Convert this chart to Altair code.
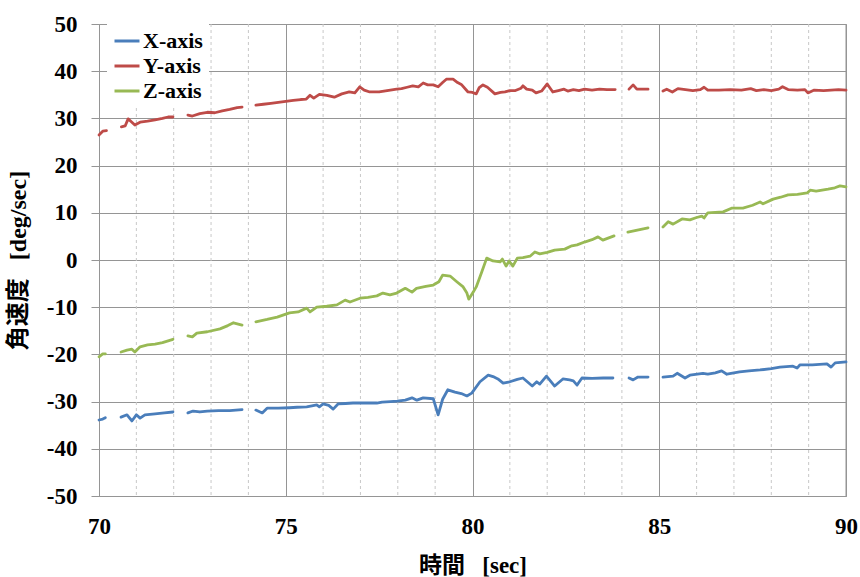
import altair as alt
import pandas as pd

# ---- data (None = gap in recording) ----
t_x = [70.0, 70.1, 70.17, None,
       70.59, 70.75, 70.88, 71.0, 71.1, 71.23, 71.5, 71.75, 71.98, None,
       72.38, 72.52, 72.7, 72.9, 73.2, 73.5, 73.83, None,
       74.2, 74.37, 74.5, 74.8, 75.1, 75.3, 75.56, 75.7, 75.83, 75.9, 76.0, 76.15, 76.27, 76.4, 76.6, 76.8,
       77.1, 77.44, 77.58, 77.8, 77.98, 78.2, 78.38, 78.51, 78.68, 78.95, 79.08, 79.2, 79.34, 79.53, 79.7,
       79.85, 79.98, 80.2, 80.42, 80.55, 80.68, 80.82, 81.0, 81.2, 81.35, 81.6, 81.72, 81.8, 81.98, 82.2,
       82.42, 82.6, 82.7, 82.8, 82.93, 83.2, 83.5, 83.76, None,
       84.19, 84.3, 84.43, 84.7, None,
       85.1, 85.37, 85.48, 85.69, 85.82, 86.17, 86.3, 86.5, 86.67, 86.81, 87.15, 87.4, 87.7, 88.0, 88.23,
       88.58, 88.69, 88.77, 89.1, 89.49, 89.6, 89.71, 90.0]
v_x = [-33.9, -33.7, -33.4, None,
       -33.3, -32.8, -34.1, -32.8, -33.5, -32.8, -32.6, -32.4, -32.2, None,
       -32.4, -32.0, -32.2, -32.0, -31.9, -31.9, -31.7, None,
       -31.8, -32.4, -31.4, -31.4, -31.3, -31.2, -31.1, -30.9, -30.7, -31.1, -30.5, -30.8, -31.6, -30.5, -30.4, -30.3,
       -30.3, -30.3, -30.1, -30.0, -29.9, -29.7, -29.2, -29.7, -29.2, -29.4, -32.8, -29.5, -27.5, -28.0, -28.3,
       -28.8, -28.2, -25.8, -24.4, -24.7, -25.2, -26.1, -25.8, -25.3, -25.0, -26.7, -25.8, -26.3, -24.6, -26.7,
       -25.2, -25.4, -25.6, -26.5, -25.0, -25.1, -25.0, -25.0, None,
       -25.0, -25.4, -24.8, -24.8, None,
       -24.8, -24.6, -24.0, -25.0, -24.4, -24.0, -24.2, -23.9, -23.5, -24.2, -23.7, -23.5, -23.3, -23.0, -22.7,
       -22.5, -22.9, -22.2, -22.2, -22.0, -22.7, -21.8, -21.6]

t_y = [70.0, 70.1, 70.2, None,
       70.6, 70.7, 70.78, 70.88, 70.96, 71.1, 71.3, 71.5, 71.7, 71.85, 71.98, None,
       72.38, 72.5, 72.7, 72.9, 73.1, 73.3, 73.5, 73.7, 73.83, None,
       74.2, 74.4, 74.6, 74.8, 75.0, 75.2, 75.4, 75.55, 75.65, 75.75, 75.9, 76.1, 76.3, 76.5, 76.7, 76.85,
       76.98, 77.1, 77.25, 77.5, 77.8, 77.97, 78.1, 78.25, 78.4, 78.55, 78.68, 78.8, 78.95, 79.08, 79.2,
       79.3, 79.48, 79.6, 79.7, 79.88, 80.0, 80.1, 80.18, 80.28, 80.4, 80.6, 80.75, 80.87, 81.0, 81.15,
       81.3, 81.35, 81.45, 81.6, 81.7, 81.85, 82.0, 82.15, 82.3, 82.45, 82.55, 82.7, 82.85, 83.0, 83.2,
       83.4, 83.6, 83.82, None,
       84.19, 84.3, 84.4, 84.7, None,
       85.1, 85.2, 85.35, 85.5, 85.7, 85.9, 86.1, 86.2, 86.3, 86.6, 86.9, 87.2, 87.45, 87.6, 87.8, 88.0,
       88.2, 88.3, 88.45, 88.7, 88.9, 88.98, 89.15, 89.4, 89.6, 89.8, 90.0]
v_y = [26.5, 27.3, 27.4, None,
       28.2, 28.4, 29.9, 29.2, 28.6, 29.2, 29.4, 29.7, 30.0, 30.3, 30.3, None,
       30.7, 30.5, 31.0, 31.3, 31.2, 31.6, 31.9, 32.3, 32.4, None,
       32.8, 33.0, 33.2, 33.4, 33.6, 33.8, 34.0, 34.1, 34.9, 34.3, 35.1, 34.9, 34.5, 35.2, 35.6, 35.4,
       36.7, 36.0, 35.6, 35.6, 36.0, 36.2, 36.3, 36.6, 36.9, 36.7, 37.5, 37.1, 37.1, 36.7, 37.6,
       38.3, 38.3, 37.6, 37.2, 35.6, 35.5, 35.2, 36.5, 37.1, 36.6, 35.2, 35.5, 35.6, 35.9, 35.9,
       36.4, 36.9, 36.2, 36.0, 35.4, 35.8, 37.3, 35.6, 35.9, 36.2, 35.8, 36.1, 35.9, 36.2, 36.0,
       36.2, 36.1, 36.1, None,
       36.2, 37.1, 36.2, 36.2, None,
       35.8, 36.2, 35.6, 36.3, 36.1, 35.9, 36.1, 36.6, 36.0, 36.0, 36.1, 36.0, 36.3, 35.9, 36.1, 35.9,
       36.2, 36.7, 36.1, 36.0, 36.1, 35.4, 36.0, 35.9, 36.0, 36.1, 36.0]

t_z = [70.0, 70.1, 70.17, None,
       70.59, 70.75, 70.88, 70.96, 71.1, 71.3, 71.5, 71.7, 71.98, None,
       72.38, 72.5, 72.62, 72.9, 73.24, 73.45, 73.6, 73.83, None,
       74.2, 74.5, 74.77, 75.1, 75.33, 75.56, 75.65, 75.83, 76.1, 76.37, 76.59, 76.72, 76.99, 77.2, 77.44,
       77.6, 77.79, 77.97, 78.2, 78.38, 78.5, 78.75, 78.95, 79.1, 79.2, 79.4, 79.58, 79.75, 79.85, 79.9,
       80.02, 80.1, 80.25, 80.38, 80.55, 80.74, 80.8, 80.9, 80.98, 81.08, 81.2, 81.35, 81.54, 81.67, 81.8,
       82.0, 82.2, 82.47, 82.66, 82.8, 83.0, 83.2, 83.36, 83.49, 83.79, None,
       84.16, 84.7, None,
       85.1, 85.24, 85.37, 85.61, 85.82, 86.0, 86.14, 86.2, 86.3, 86.5, 86.71, 86.95, 87.24, 87.5, 87.7,
       87.78, 88.05, 88.25, 88.45, 88.7, 88.96, 89.04, 89.2, 89.52, 89.7, 89.84, 90.0]
v_z = [-20.5, -19.9, -19.9, None,
       -19.5, -19.1, -18.9, -19.5, -18.4, -18.0, -17.8, -17.5, -16.8, None,
       -16.1, -16.3, -15.5, -15.2, -14.6, -13.9, -13.3, -13.8, None,
       -13.1, -12.6, -12.1, -11.2, -11.0, -10.2, -11.0, -10.0, -9.8, -9.5, -8.5, -8.9, -8.1, -7.9, -7.6,
       -7.0, -7.4, -7.0, -6.0, -6.8, -6.0, -5.6, -5.3, -4.6, -3.2, -3.4, -4.6, -5.7, -7.0, -8.3,
       -6.8, -5.7, -2.5, 0.4, -0.2, -0.4, 0.2, -1.3, -0.2, -1.3, 0.4, 0.5, 0.8, 1.7, 1.3,
       1.6, 2.1, 2.3, 3.0, 3.2, 3.8, 4.3, 4.9, 4.2, 5.1, None,
       5.9, 6.8, None,
       7.0, 8.1, 7.6, 8.7, 8.5, 9.0, 9.3, 8.9, 10.0, 10.1, 10.2, 11.0, 11.0, 11.6, 12.3,
       11.9, 12.9, 13.3, 13.8, 13.9, 14.2, 14.8, 14.6, 15.0, 15.3, 15.7, 15.5]

series_names = ["X-axis", "Y-axis", "Z-axis"]
series_colors = ["#4a7ebb", "#be4b48", "#98b954"]
x_ticks = [70, 75, 80, 85, 90]
y_ticks = list(range(-50, 51, 10))
minor_ticks = [t for t in range(71, 90) if t % 5 != 0]

rows = []
for name, ts, vs in zip(series_names, [t_x, t_y, t_z], [v_x, v_y, v_z]):
    seg = 0
    for t, v in zip(ts, vs):
        if t is None:
            seg += 1
            continue
        rows.append({"time": t, "value": v, "series": name, "seg": f"{name}-{seg}"})
df = pd.DataFrame(rows)

NUMFONT = "'Liberation Serif', 'Times New Roman', serif"
TITLEFONT = "'Liberation Serif', 'Noto Sans CJK JP', serif"
GRID = "#959595"
xscale = alt.Scale(domain=[70, 90], nice=False, zero=False)
yscale = alt.Scale(domain=[-50, 50], nice=False)

x_axis = alt.Axis(values=x_ticks, title="時間\u00a0\u00a0\u00a0[sec]", grid=True,
                  gridColor=GRID, gridWidth=1, ticks=False, domainColor=GRID,
                  labelFont=NUMFONT, labelFontSize=23, labelFontWeight="bold", labelColor="black",
                  labelPadding=19, labelFlush=False, labelExpr="'' + datum.value",
                  titleFont=TITLEFONT, titleFontSize=23, titleFontWeight="bold",
                  titleColor="black", titleBaseline="alphabetic", titleY=76)

minor = alt.Chart(pd.DataFrame({"time": minor_ticks})).mark_rule(
    color="#c8c8c8", strokeDash=[3, 3], strokeWidth=1
).encode(x=alt.X("time:Q", scale=xscale, axis=x_axis))

right_edge = alt.Chart(pd.DataFrame({"time": [90]})).mark_rule(color=GRID).encode(
    x=alt.X("time:Q", scale=xscale, axis=x_axis))

lines = alt.Chart(df).mark_line(strokeWidth=2.8, strokeJoin="round", strokeCap="round").encode(
    x=alt.X("time:Q", scale=xscale, axis=x_axis),
    y=alt.Y("value:Q", scale=yscale,
            axis=alt.Axis(values=y_ticks, title="角速度\u00a0\u00a0\u00a0[deg/sec]", grid=True,
                          gridColor=GRID, gridWidth=1, tickColor=GRID, tickSize=8,
                          domainColor=GRID, labelFont=NUMFONT, labelFontSize=23,
                          labelFontWeight="bold", labelColor="black", labelPadding=14,
                          labelExpr="'' + datum.value",
                          titleFont=TITLEFONT, titleFontSize=24, titleFontWeight="bold",
                          titleColor="black", titleX=-81, titleBaseline="middle")),
    color=alt.Color("series:N", scale=alt.Scale(domain=series_names, range=series_colors),
                    legend=alt.Legend(title=None, orient="none", legendX=8, legendY=-3,
                                      fillColor="white", padding=6, symbolType="stroke",
                                      symbolSize=625, symbolStrokeWidth=3, labelFont=NUMFONT,
                                      labelFontSize=22, labelFontWeight="bold", labelColor="black",
                                      labelOffset=2, rowPadding=0)),
    detail="seg:N",
)

chart = alt.layer(minor, right_edge, lines).properties(
    width=747, height=472,
    autosize=alt.AutoSizeParams(type="none"),
    padding={"left": 99, "top": 24, "right": 14, "bottom": 81},
).configure_view(stroke=None).configure(background="white")

chart.save("out.html", embed_options={"renderer": "svg", "actions": False})
